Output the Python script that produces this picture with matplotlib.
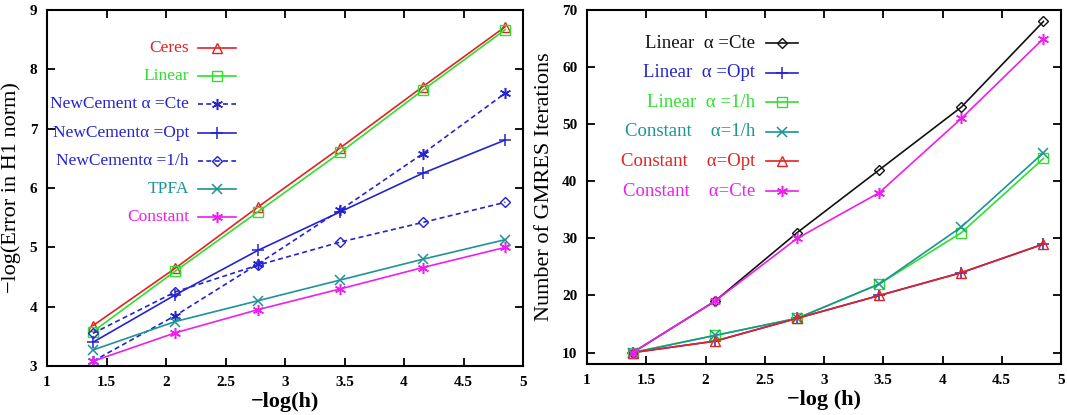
import matplotlib
matplotlib.use("Agg")
import matplotlib.pyplot as plt
from matplotlib.lines import Line2D

plt.rcParams['font.family'] = ['Liberation Serif', 'DejaVu Serif']

# -log(h) for h = 1/4 ... 1/128
logh = [1.386, 2.079, 2.773, 3.466, 4.159, 4.852]

# left panel: -log(error in H1 norm)
ceres = [3.68, 4.65, 5.68, 6.68, 7.71, 8.72]
linear = [3.58, 4.60, 5.60, 6.60, 7.65, 8.67]
nc_cte = [3.08, 3.85, 4.72, 5.63, 6.58, 7.60]
nc_opt = [3.40, 4.20, 4.95, 5.60, 6.25, 6.81]
nc_1h = [3.55, 4.25, 4.70, 5.09, 5.42, 5.76]
tpfa = [3.27, 3.75, 4.10, 4.45, 4.80, 5.13]
constant = [3.08, 3.56, 3.95, 4.30, 4.66, 5.00]

# right panel: GMRES iterations
lin_cte = [10, 19, 31, 42, 53, 68]
lin_opt = [10, 12, 16, 20, 24, 29]
lin_1h = [10, 13, 16, 22, 31, 44]
con_1h = [10, 13, 16, 22, 32, 45]
con_opt = [10, 12, 16, 20, 24, 29]
con_cte = [10, 19, 30, 38, 51, 65]

RED = '#e32222'
GREEN = '#2ee02e'
BLUE = '#2424d0'
TEAL = '#1c9494'
MAGENTA = '#ee1eee'
BLACK = '#111111'
STAR = (6, 2, 0)

fig = plt.figure(figsize=(10.67, 4.15), dpi=100)
W, H = 1067, 415
ax1 = fig.add_axes([47 / W, 1 - 366 / H, (523 - 47) / W, (366 - 10) / H])
ax2 = fig.add_axes([587 / W, 1 - 364 / H, (1061 - 587) / W, (364 - 10) / H])

left_series = [
    ("Ceres", ceres, RED, '^', '-'),
    ("Linear", linear, GREEN, 's', '-'),
    ("NewCement \u03b1 =Cte", nc_cte, BLUE, STAR, '--'),
    ("NewCement\u03b1 =Opt", nc_opt, BLUE, '+', '-'),
    ("NewCement\u03b1 =1/h", nc_1h, BLUE, 'D', '--'),
    ("TPFA", tpfa, TEAL, 'x', '-'),
    ("Constant", constant, MAGENTA, STAR, '-'),
]

right_series = [
    ("Linear  \u03b1 =Cte", lin_cte, BLACK, 'D', '-'),
    ("Linear  \u03b1 =Opt", lin_opt, BLUE, '+', '-'),
    ("Linear  \u03b1 =1/h", lin_1h, GREEN, 's', '-'),
    ("Constant    \u03b1=1/h", con_1h, TEAL, 'x', '-'),
    ("Constant    \u03b1=Opt", con_opt, RED, '^', '-'),
    ("Constant    \u03b1=Cte", con_cte, MAGENTA, STAR, '-'),
]


def marker_kw(m):
    size = {'D': 5, 's': 6.5, '^': 7.5, '+': 8, 'x': 7}.get(m, 8)
    if m in ('D', 's', '^'):
        return dict(marker=m, markersize=size, markerfacecolor='none', markeredgewidth=1.0)
    return dict(marker=m, markersize=size, markeredgewidth=1.1)


def draw(ax, series, text_right, line_x0, line_x1, y_top, dy, fs):
    for i, (name, vals, col, m, ls) in enumerate(series):
        ax.plot(logh, vals, color=col, linestyle=ls, lw=1.2,
                dashes=(3, 2) if ls == '--' else (None, None), **marker_kw(m))
        # gnuplot style key: text right aligned, sample line on the right
        y = y_top - i * dy
        ax.text(text_right, y, name, transform=ax.transAxes, ha='right', va='center',
                color=col, fontsize=fs)
        ax.add_line(Line2D([line_x0, line_x1], [y, y], transform=ax.transAxes,
                           color=col, linestyle=ls, lw=1.2,
                           dashes=(3, 2) if ls == '--' else (None, None)))
        ax.add_line(Line2D([(line_x0 + line_x1) / 2], [y], transform=ax.transAxes,
                           color=col, linestyle='none', **marker_kw(m)))


draw(ax1, left_series, (189 - 47) / 476, (198 - 47) / 476, (236 - 47) / 476,
     1 - (48 - 10) / 356, 28.2 / 356, 12.5)
draw(ax2, right_series, (755 - 587) / 474, (766 - 587) / 474, (798 - 587) / 474,
     1 - (43 - 10) / 354, 29.6 / 354, 13.5)

ax1.set_xlim(1, 5)
ax1.set_ylim(3, 9)
ax1.set_yticks(range(3, 10))
ax2.set_xlim(1, 5)
ax2.set_ylim(8, 70)
ax2.set_yticks(range(10, 71, 10))

for ax in (ax1, ax2):
    ax.set_xticks([1, 1.5, 2, 2.5, 3, 3.5, 4, 4.5, 5])
    ax.set_xticklabels(['1', '1.5', '2', '2.5', '3', '3.5', '4', '4.5', '5'])
    ax.tick_params(direction='in', top=True, right=True, length=6, width=1.3,
                   labelsize=11, pad=7)
    for lab in ax.get_xticklabels() + ax.get_yticklabels():
        lab.set_fontweight('bold')
    for sp in ax.spines.values():
        sp.set_linewidth(1.5)

ax1.set_xlabel("\u2212log(h)", fontsize=16, fontweight='bold', labelpad=2)
ax1.set_ylabel("\u2212log(Error in H1 norm)", fontsize=16, labelpad=6)
ax2.set_xlabel("\u2212log (h)", fontsize=16, fontweight='bold', labelpad=2)
ax2.set_ylabel("Number of GMRES Iterations", fontsize=16, labelpad=6)

fig.savefig("out.png", dpi=100)
